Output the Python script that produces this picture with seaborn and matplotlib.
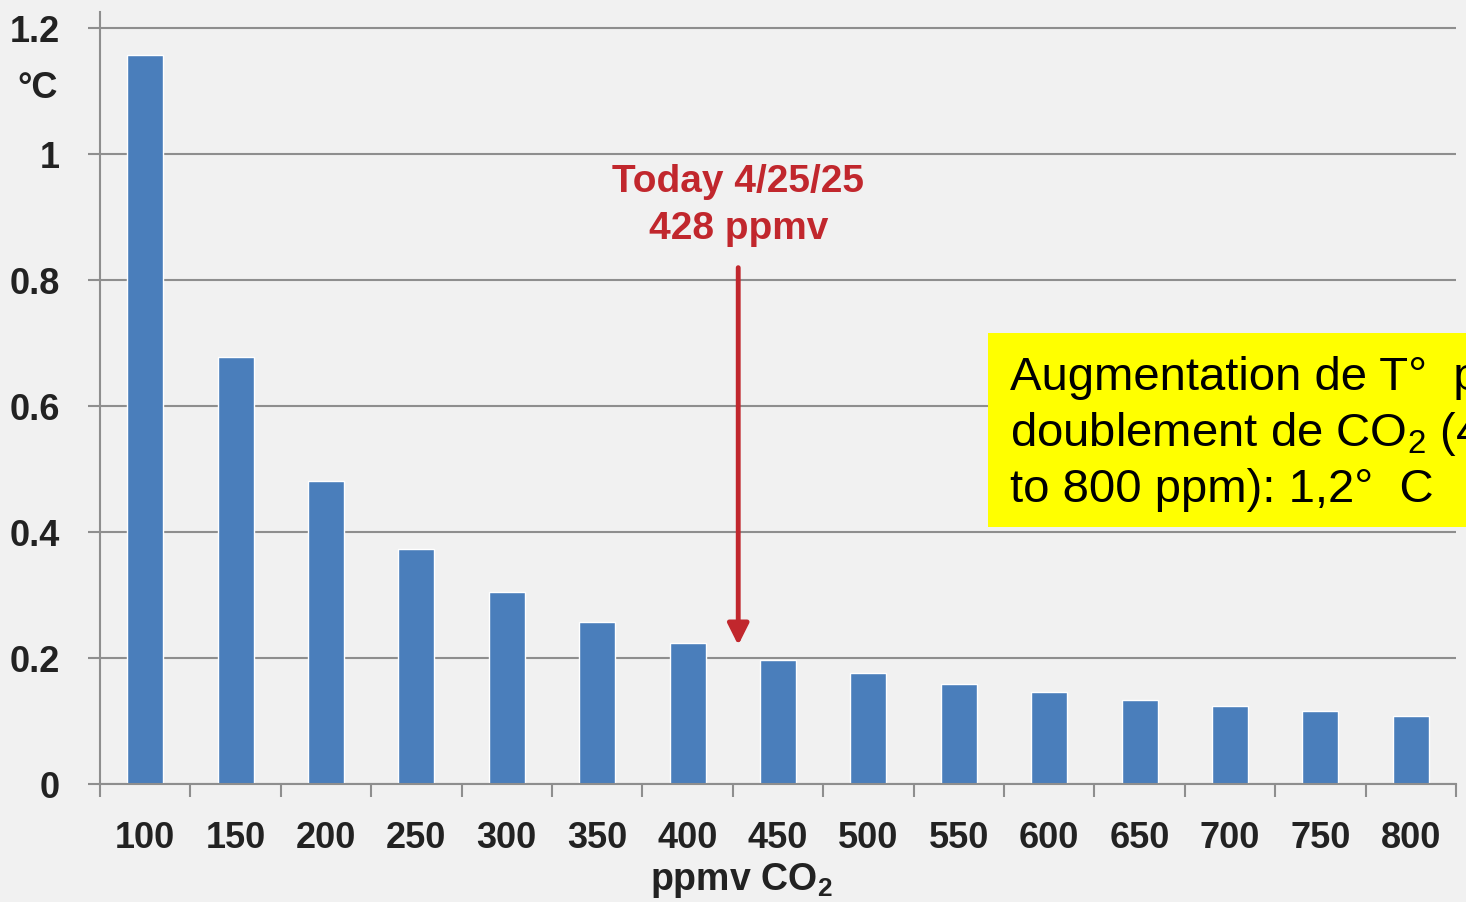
import numpy as np
import pandas as pd
import seaborn as sns
import matplotlib.pyplot as plt
from matplotlib.patches import Rectangle

# Data: warming per 50 ppmv step of CO2
ppmv = [100, 150, 200, 250, 300, 350, 400, 450, 500, 550, 600, 650, 700, 750, 800]
delta_t = [1.157, 0.678, 0.481, 0.373, 0.305, 0.257, 0.224, 0.197, 0.176, 0.159,
           0.146, 0.133, 0.124, 0.116, 0.108]
y_ticks = [0, 0.2, 0.4, 0.6, 0.8, 1.0, 1.2]
y_tick_labels = ["0", "0.2", "0.4", "0.6", "0.8", "1", "1.2"]
today_ppmv = 428
today_text = "Today 4/25/25\n428 ppmv"
box_text = "Augmentation de T°  pour\ndoublement de CO$_2$ (400\nto 800 ppm): 1,2°  C"

bg = "#f1f1f1"
grey = "#8e8e8e"
blue = "#4a7ebb"
red = "#c1272d"
ink = "#222222"

sns.set_theme(style="white")
plt.rcParams["font.family"] = ["Liberation Sans"]
plt.rcParams["font.weight"] = "bold"
plt.rcParams["mathtext.fontset"] = "custom"
plt.rcParams["mathtext.rm"] = "Liberation Sans"
plt.rcParams["mathtext.default"] = "regular"

df = pd.DataFrame({"ppmv": [str(p) for p in ppmv], "dT": delta_t})

fig = plt.figure(figsize=(14.66, 9.02), dpi=100, facecolor=bg)
ax = fig.add_axes([100 / 1466, 118 / 902, 1356 / 1466, 772 / 902], facecolor=bg)
sns.barplot(data=df, x="ppmv", y="dT", color=blue, saturation=1, width=0.4, ax=ax)

ax.set_xlim(-0.5, len(ppmv) - 0.5)
ax.set_ylim(0, 1.2254)
ax.set_yticks(y_ticks)
ax.set_yticklabels(y_tick_labels)
ax.set_xticks(np.arange(-0.5, len(ppmv), 1), minor=True)

ax.yaxis.grid(True, color=grey, lw=1.5)
ax.set_axisbelow(True)
for s in ["top", "right"]:
    ax.spines[s].set_visible(False)
for s in ["left", "bottom"]:
    ax.spines[s].set_color(grey)
    ax.spines[s].set_linewidth(1.5)

ax.tick_params(axis="x", which="major", length=0, pad=27, labelsize=26, labelcolor=ink)
ax.tick_params(axis="x", which="minor", length=9, width=1.5, color=grey, bottom=True)
ax.tick_params(axis="y", length=9, width=1.5, color=grey, pad=20, labelsize=26,
               labelcolor=ink, left=True)

ax.set_xlabel("ppmv CO$_2$", fontsize=27, fontweight="bold", color=ink)
ax.xaxis.set_label_coords(0.473, -0.1)
ax.set_ylabel("")
fig.text(38 / 1466, 1 - 88 / 902, "°C", fontsize=26, color=ink,
         ha="center", va="center")

# arrow pointing at today's concentration
x_today = (today_ppmv - ppmv[0]) / (ppmv[1] - ppmv[0])
ax.annotate("", xy=(x_today, 0.216), xytext=(x_today, 0.824),
            arrowprops=dict(arrowstyle="-|>", color=red, lw=3.5, mutation_scale=32))
ax.text(x_today, 0.918, today_text, color=red, fontsize=28, ha="center", va="center",
        linespacing=1.4)

# yellow note box, running off the right edge as in the original slide
fig.add_artist(Rectangle((988 / 1466, 1 - 527 / 902), 600 / 1466, 194 / 902,
                         transform=fig.transFigure, facecolor="#ffff00", edgecolor="none"))
fig.text(1010 / 1466, 1 - 434 / 902, box_text, fontsize=34, color="black",
         fontweight="normal", ha="left", va="center", linespacing=1.3)

fig.savefig("out.png", dpi=100, facecolor=bg)
